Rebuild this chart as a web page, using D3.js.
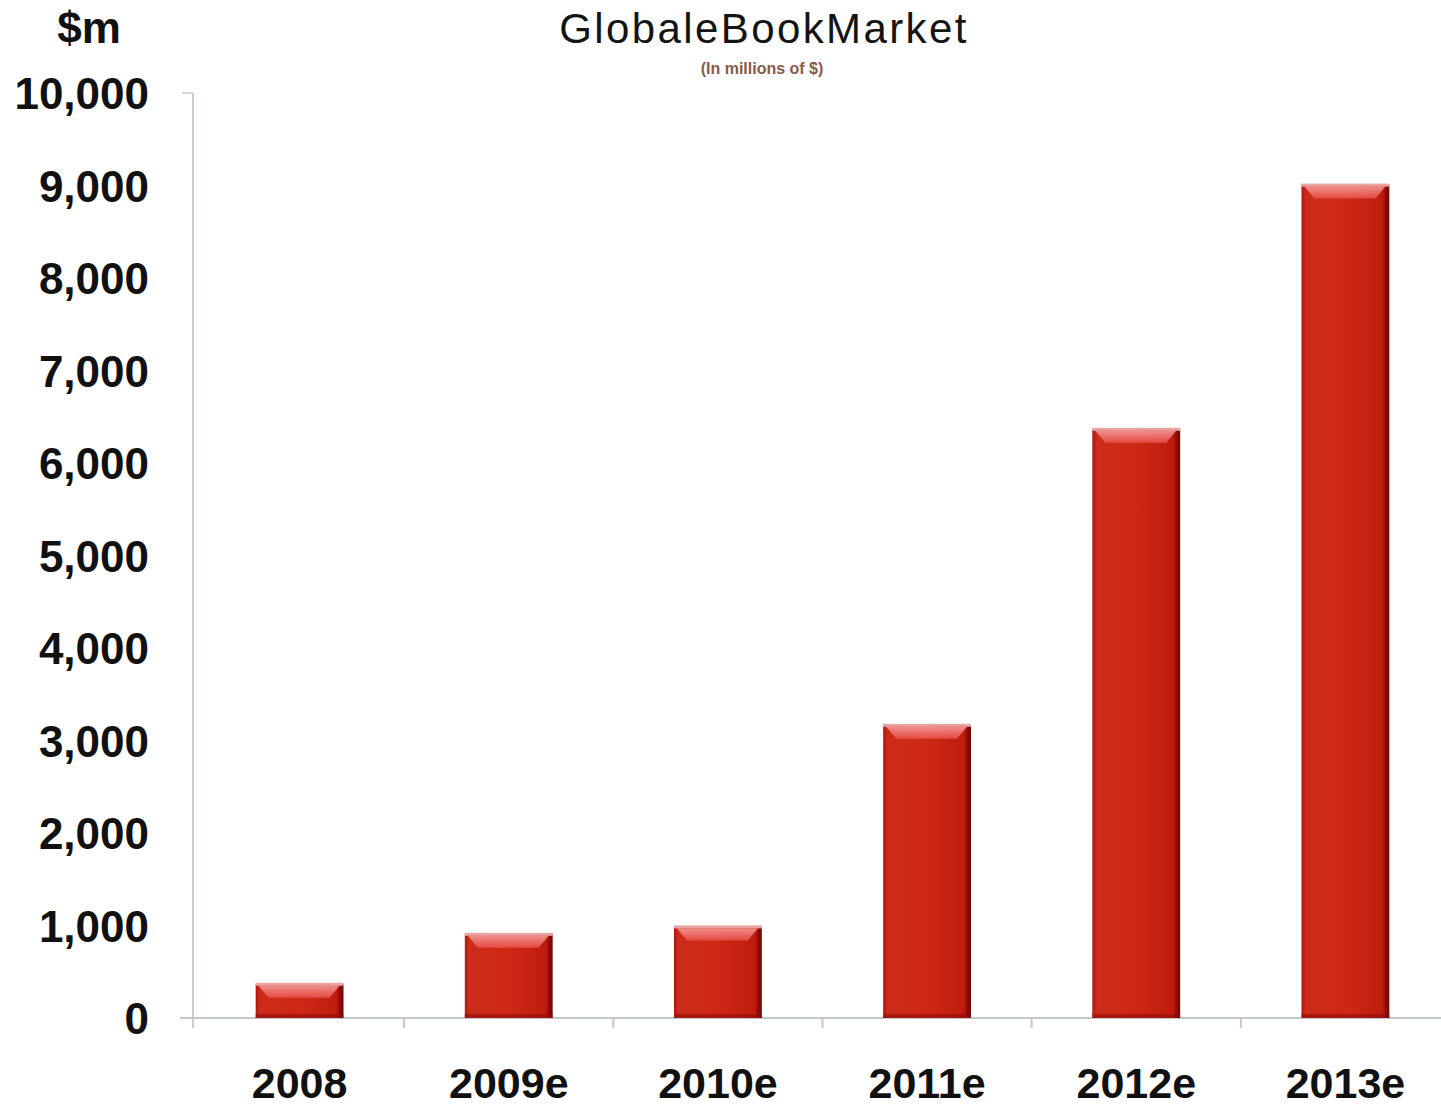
<!DOCTYPE html>
<html>
<head>
<meta charset="utf-8">
<script src="https://cdn.jsdelivr.net/npm/d3@7"></script>
<style>
  html, body { margin: 0; padding: 0; background: #fff; }
  svg { display: block; }
</style>
</head>
<body>
<svg id="chart" width="1441" height="1109"></svg>
<script>
const categories = ["2008", "2009e", "2010e", "2011e", "2012e", "2013e"];
const values = [370, 910, 990, 3170, 6370, 9010];
const yTicks = [0, 1000, 2000, 3000, 4000, 5000, 6000, 7000, 8000, 9000, 10000];
const titleText = "GlobaleBookMarket";
const subtitleText = "(In millions of $)";
const unitText = "$m";

const svg = d3.select("#chart");
const W = 1441, H = 1109;
const x0 = 193, yBase = 1018, yTop = 93;

const x = d3.scaleBand().domain(categories).range([x0 + 2, 1450]).paddingInner(0.58).paddingOuter(0.29);
const y = d3.scaleLinear().domain([0, 10000]).range([yBase, yTop]);

const defs = svg.append("defs");
const g1 = defs.append("linearGradient").attr("id", "barH").attr("x1", 0).attr("x2", 1).attr("y1", 0).attr("y2", 0);
g1.append("stop").attr("offset", "0").attr("stop-color", "#b3140a");
g1.append("stop").attr("offset", "0.05").attr("stop-color", "#cc2c19");
g1.append("stop").attr("offset", "0.5").attr("stop-color", "#cf2815");
g1.append("stop").attr("offset", "0.92").attr("stop-color", "#bf1c0f");
g1.append("stop").attr("offset", "0.96").attr("stop-color", "#8e0a05");
g1.append("stop").attr("offset", "1").attr("stop-color", "#6e0804");
const g2 = defs.append("linearGradient").attr("id", "hl").attr("x1", 0).attr("x2", 0).attr("y1", 0).attr("y2", 1);
g2.append("stop").attr("offset", "0").attr("stop-color", "#f7a0a0");
g2.append("stop").attr("offset", "1").attr("stop-color", "#e8504a");

// axes
svg.append("line").attr("x1", 180).attr("x2", W).attr("y1", yBase).attr("y2", yBase)
  .attr("stroke", "#c3c7cf").attr("stroke-width", 2);
svg.append("line").attr("x1", x0).attr("x2", x0).attr("y1", yTop).attr("y2", yBase + 10)
  .attr("stroke", "#c9ccd3").attr("stroke-width", 2);
svg.append("line").attr("x1", 182).attr("x2", x0).attr("y1", yTop).attr("y2", yTop)
  .attr("stroke", "#d3d6dc").attr("stroke-width", 2);

const gap = x.step() - x.bandwidth();
svg.append("g").selectAll("line").data(categories.slice(1)).join("line")
  .attr("x1", d => x(d) - gap / 2).attr("x2", d => x(d) - gap / 2)
  .attr("y1", yBase).attr("y2", yBase + 10)
  .attr("stroke", "#c3c7cf").attr("stroke-width", 2);

// y labels
const yAxis = d3.axisLeft(y).tickValues(yTicks).tickSize(0).tickPadding(44)
  .tickFormat(d3.format(","));
const ya = svg.append("g").attr("transform", `translate(${x0},0)`).call(yAxis);
ya.select(".domain").remove();
ya.selectAll("text").attr("font-family", "Liberation Sans, Arial, sans-serif")
  .attr("font-size", 44).attr("font-weight", "bold").attr("fill", "#111").attr("dy", "0.36em");

// x labels
const xAxis = d3.axisBottom(x).tickSize(0).tickPadding(0);
const xa = svg.append("g").attr("transform", `translate(0,${yBase})`).call(xAxis);
xa.select(".domain").remove();
xa.selectAll("text").attr("font-family", "Liberation Sans, Arial, sans-serif")
  .attr("font-size", 43).attr("font-weight", "bold").attr("fill", "#111")
  .attr("y", 80).attr("dy", 0);

// bars
const bars = svg.append("g").selectAll("g").data(categories).join("g");
bars.append("rect")
  .attr("x", d => x(d)).attr("width", x.bandwidth())
  .attr("y", (d, i) => y(values[i])).attr("height", (d, i) => yBase - y(values[i]))
  .attr("fill", "url(#barH)");
// top rim
bars.append("rect")
  .attr("x", d => x(d)).attr("width", x.bandwidth())
  .attr("y", (d, i) => y(values[i]) - 1).attr("height", 3)
  .attr("fill", "#e9a3a0");
// top bevel highlight
bars.append("path")
  .attr("d", (d, i) => {
    const l = x(d), r = x(d) + x.bandwidth(), t = y(values[i]) + 2;
    const h = Math.min(12, (yBase - y(values[i])) * 0.35);
    return `M${l + 3},${t} L${r - 4},${t} L${r - 14},${t + h} L${l + 13},${t + h} Z`;
  })
  .attr("fill", "url(#hl)").attr("opacity", 0.85);
// bottom dark edge
bars.append("rect")
  .attr("x", d => x(d)).attr("width", x.bandwidth())
  .attr("y", yBase - 4).attr("height", 4)
  .attr("fill", "#8e0e08").attr("opacity", 0.6);

// titles
svg.append("text").attr("x", 764).attr("y", 43).attr("text-anchor", "middle")
  .attr("font-family", "Liberation Sans, Arial, sans-serif").attr("font-size", 42)
  .attr("letter-spacing", 2.4).attr("fill", "#141414").text(titleText);
svg.append("text").attr("x", 762).attr("y", 74).attr("text-anchor", "middle")
  .attr("font-family", "Liberation Sans, Arial, sans-serif").attr("font-size", 16)
  .attr("font-weight", "bold").attr("fill", "#8a5a48").text(subtitleText);
svg.append("text").attr("x", 89).attr("y", 43).attr("text-anchor", "middle")
  .attr("font-family", "Liberation Sans, Arial, sans-serif").attr("font-size", 44)
  .attr("font-weight", "bold").attr("fill", "#111").text(unitText);
</script>
</body>
</html>
